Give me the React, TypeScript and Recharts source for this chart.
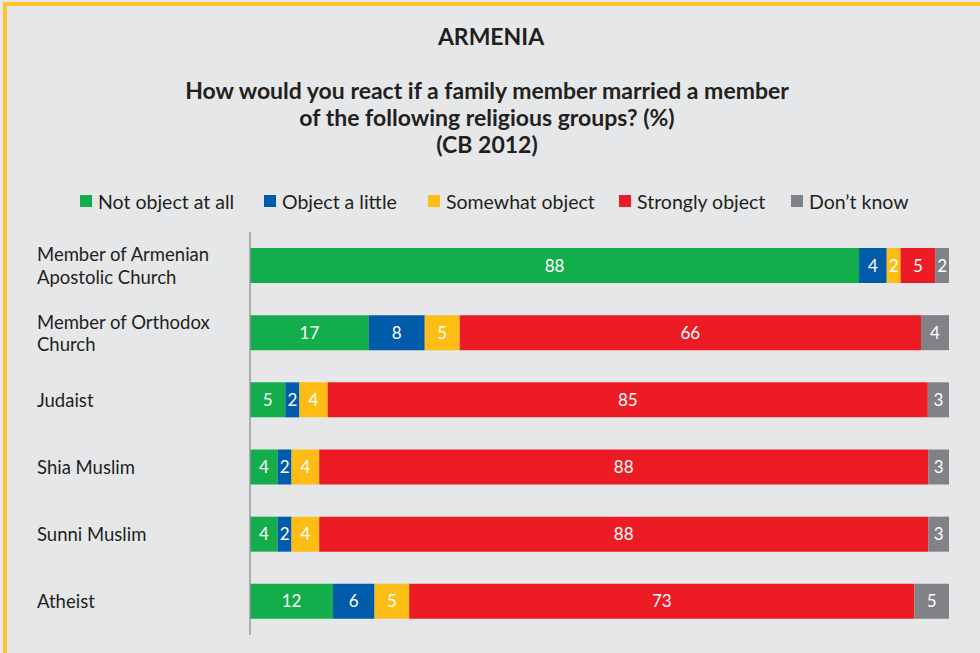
import { BarChart, Bar, XAxis, YAxis, LabelList } from 'recharts';

const categories = [
  'Member of Armenian\nApostolic Church',
  'Member of Orthodox\nChurch',
  'Judaist',
  'Shia Muslim',
  'Sunni Muslim',
  'Atheist',
];

const notObject = [88, 17, 5, 4, 4, 12];
const objectLittle = [4, 8, 2, 2, 2, 6];
const somewhatObject = [2, 5, 4, 4, 4, 5];
const stronglyObject = [5, 66, 85, 88, 88, 73];
const dontKnow = [2, 4, 3, 3, 3, 5];

const series = [
  { key: 'notObject', name: 'Not object at all', color: '#13ad4c' },
  { key: 'objectLittle', name: 'Object a little', color: '#005baa' },
  { key: 'somewhatObject', name: 'Somewhat object', color: '#fdbd14' },
  { key: 'stronglyObject', name: 'Strongly object', color: '#ed1c24' },
  { key: 'dontKnow', name: 'Don\u2019t know', color: '#808285' },
];

const data = categories.map((c, i) => ({
  category: c,
  notObject: notObject[i],
  objectLittle: objectLittle[i],
  somewhatObject: somewhatObject[i],
  stronglyObject: stronglyObject[i],
  dontKnow: dontKnow[i],
}));

const FONT = 'Lato, "Open Sans", sans-serif';
const TEXT = '#231f20';

// linksbündige Kategorie-Beschriftung, ggf. zweizeilig (eine <text> je Zeile)
function CategoryTick({ y, payload }: any) {
  const lines = String(payload.value).split('\n');
  const lh = 22.5;
  const start = -((lines.length - 1) * lh) / 2;
  return (
    <g>
      {lines.map((l, i) => (
        <text
          key={i}
          x={37}
          y={y + start + i * lh}
          textAnchor="start"
          dominantBaseline="central"
          fill={TEXT}
          fontSize={18.5}
          fontFamily={FONT}
        >
          {l}
        </text>
      ))}
    </g>
  );
}

function LegendRow() {
  const pos = [80, 264, 428, 619, 791];
  return (
    <div style={{ position: 'absolute', left: 0, top: 189, height: 24, width: 980, fontFamily: FONT }}>
      {series.map((s, i) => (
        <div
          key={s.key}
          style={{
            position: 'absolute',
            left: pos[i],
            top: 0,
            display: 'flex',
            alignItems: 'center',
            height: 24,
            whiteSpace: 'nowrap',
          }}
        >
          <span style={{ width: 12, height: 12, background: s.color, display: 'inline-block', marginRight: 6 }} />
          <span style={{ fontSize: 19.5, color: TEXT }}>{s.name}</span>
        </div>
      ))}
    </div>
  );
}

export default function App() {
  return (
    <div
      style={{
        position: 'absolute',
        left: 0,
        top: 0,
        width: 980,
        height: 653,
        background: '#e6e7e8',
        overflow: 'hidden',
      }}
    >
      <div
        style={{
          position: 'absolute',
          left: 3,
          top: 2,
          width: 977,
          height: 651,
          borderTop: '4px solid #fdc52c',
          borderLeft: '4px solid #fdc52c',
          boxSizing: 'border-box',
        }}
      />
      <div
        style={{
          position: 'absolute',
          left: 0,
          top: 22,
          width: 982,
          textAlign: 'center',
          fontFamily: FONT,
          fontWeight: 700,
          fontSize: 23,
          color: TEXT,
        }}
      >
        ARMENIA
      </div>
      <div
        style={{
          position: 'absolute',
          left: 0,
          top: 77,
          width: 974,
          textAlign: 'center',
          fontFamily: FONT,
          fontWeight: 700,
          fontSize: 23,
          lineHeight: '27px',
          color: TEXT,
        }}
      >
        How would you react if a family member married a member
        <br />
        of the following religious groups? (%)
        <br />
        (CB 2012)
      </div>
      <LegendRow />
      <div style={{ position: 'absolute', left: 0, top: 0 }}>
        <BarChart
          width={980}
          height={653}
          data={data}
          layout="vertical"
          stackOffset="expand"
          margin={{ top: 232, right: 31, bottom: 18, left: 0 }}
        >
          <XAxis type="number" domain={[0, 1]} hide />
          <YAxis
            type="category"
            dataKey="category"
            width={250}
            tick={<CategoryTick />}
            tickLine={false}
            axisLine={{ stroke: '#999a9c', strokeWidth: 1.5 }}
            interval={0}
          />
          {series.map((s) => (
            <Bar
              key={s.key}
              dataKey={s.key}
              name={s.name}
              stackId="a"
              fill={s.color}
              barSize={35}
              isAnimationActive={false}
            >
              <LabelList
                dataKey={s.key}
                position="center"
                fill="#ffffff"
                fontSize={17}
                fontFamily={FONT}
              />
            </Bar>
          ))}
        </BarChart>
      </div>
    </div>
  );
}
